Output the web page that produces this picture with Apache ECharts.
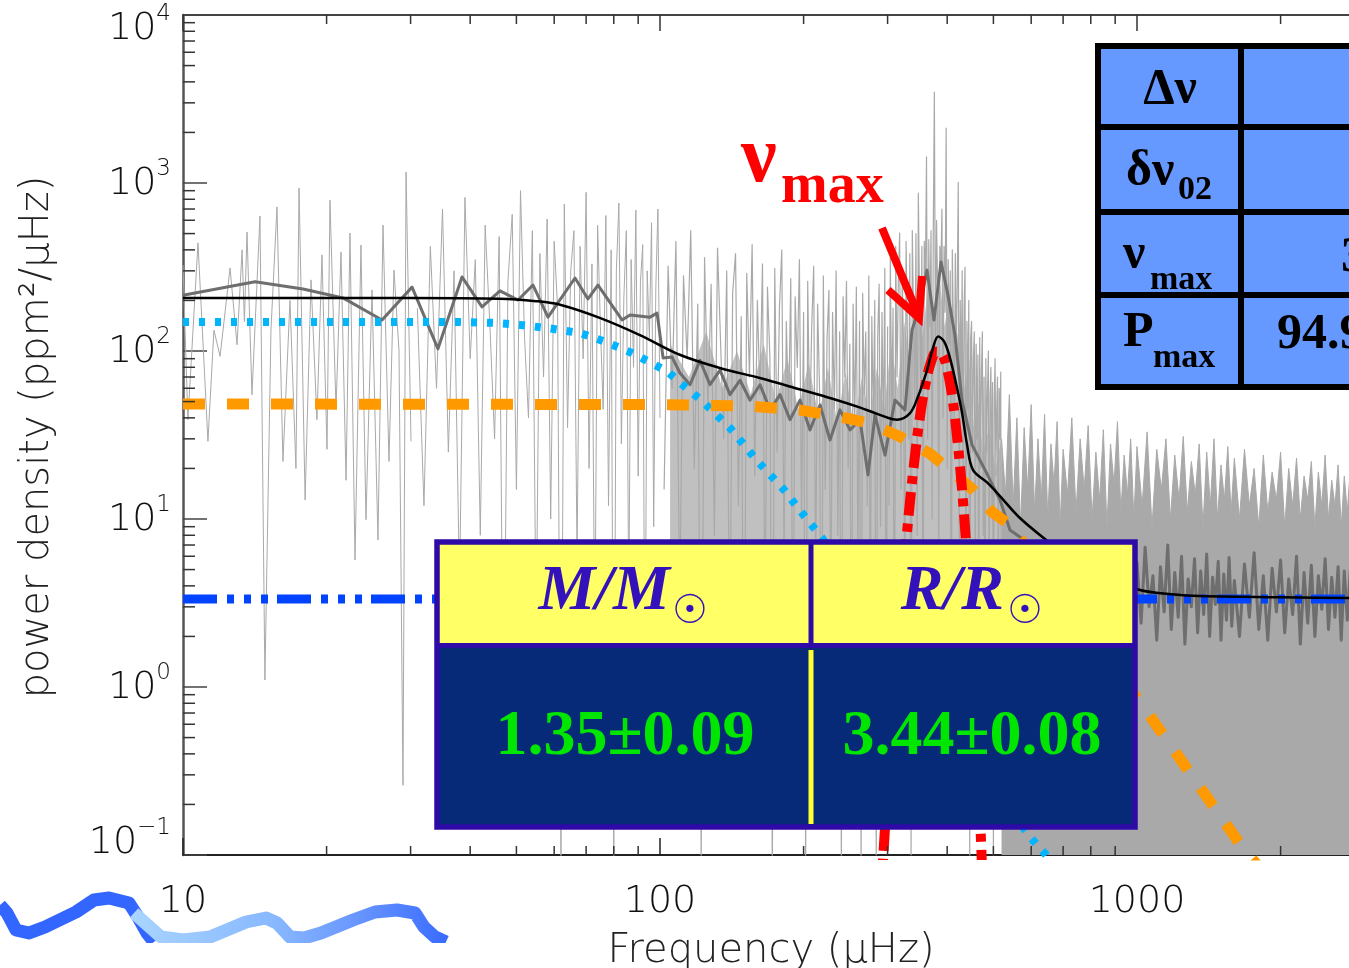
<!DOCTYPE html>
<html><head><meta charset="utf-8">
<script src="https://cdn.jsdelivr.net/npm/echarts@6/dist/echarts.min.js"></script>
<style>html,body{margin:0;padding:0;background:#fff;overflow:hidden}#c{width:1349px;height:968px}</style>
</head><body><div id="c"></div>
<script>
// ---- data (frequency in µHz, power density in ppm^2/µHz) ----
const rawLow = [[10.0,325],[10.24,39],[10.75,440],[11.28,29],[11.61,133],[11.96,93],[12.55,312],[12.98,109],[13.30,400],[13.45,150],[13.62,511],[13.95,55],[14.50,636],[14.85,1.1],[15.29,133],[15.74,720],[16.20,22],[16.76,200],[17.25,20],[17.51,933],[18.03,13],[18.55,265],[19.09,39],[19.56,373],[20.04,26],[20.33,790],[20.93,45],[21.44,388],[21.97,17],[22.39,504],[22.94,5.7],[23.61,427],[24.19,9.9],[24.90,231],[25.63,7.5],[26.26,562],[27.03,22],[27.69,303],[28.37,100],[28.92,0.26],[29.35,1163],[30.06,29]];
const rawMid = [[31,180],[32,12],[33,420],[34,60],[35,700],[36,25],[37,300],[38,4],[39,820],[40,90],[41,350],[42,8],[43,560],[44,140],[45,30],[46,480],[47,0.4],[48,260],[49,650],[50,15],[51,900],[52,120],[53,40],[54,520],[55,2],[56,380],[57,70],[58,610],[59,10],[60,450],[61,180],[62,0.09],[63,750],[64,35],[65,300],[66,520],[67,6],[68,420],[69,90],[70,880],[71,20],[72,330],[73,1.5],[74,560],[75,140],[76,45],[77,640],[78,12],[79,400],[80,0.08],[81,300],[82,760],[83,28],[84,210],[85,520],[86,3],[87,350],[88,80],[89,690],[90,18],[91,260],[92,430],[93,0.5],[94,300],[95,120],[96,580],[97,9],[98,240],[99,700],[100,40]];
const rawHigh = [[102,15],[104,320],[106,60],[108,450],[110,3],[112,280],[114,90],[116,520],[118,20],[120,190],[122,0.09],[124,360],[126,45],[128,250],[130,8],[132,410],[134,110],[136,30],[138,300],[140,1.2],[142,220],[144,380],[146,12],[148,160],[150,0.3],[152,290],[154,70],[156,430],[158,18],[160,200],[162,55],[164,330],[166,2],[168,240],[170,90],[172,0.08],[174,310],[176,25],[178,180],[180,400],[182,6],[184,150],[186,40],[188,270],[190,0.6],[192,210],[194,80],[196,350],[198,10],[200,170],[202,0.09],[204,260],[206,35],[208,140],[210,320],[212,4],[214,190],[216,60],[218,0.2],[220,280],[222,15],[224,120],[226,230],[228,1.5],[230,170],[232,45],[234,300],[236,8],[238,130],[240,0.09],[242,210],[244,70],[246,260],[248,20],[250,110],[252,0.4],[254,190],[256,35],[258,240],[260,5],[262,150],[264,0.08],[266,220],[268,55],[270,130],[272,12],[274,280],[276,2],[278,160],[280,40],[282,200],[284,0.1],[286,120],[288,250],[290,9],[292,170],[294,30],[296,310],[298,0.7],[300,140]];
const rawPeak = [[302,12],[304,360],[306,40],[308,180],[310,0.3],[312,420],[314,70],[316,260],[318,504],[320,15],[322,300],[324,90],[326,2],[328,450],[330,130],[332,30],[334,380],[336,0.1],[338,520],[340,160],[342,45],[344,500],[346,8],[348,870],[350,200],[352,60],[354,420],[356,0.6],[358,450],[360,250],[362,1430],[364,30],[366,460],[368,140],[370,520],[372,10],[374,480],[376,3480],[378,90],[380,600],[382,220],[384,5],[386,420],[388,300],[390,700],[392,40],[394,420],[396,170],[398,2120],[400,20],[402,350],[404,110],[406,300],[408,0.4],[410,400],[412,150],[414,35],[416,380],[418,90],[420,260],[422,1010],[424,6],[426,200],[428,60],[430,300],[432,15],[434,180],[436,316],[438,2],[440,150],[442,45],[444,200],[446,0.09],[448,120],[450,150],[452,25],[454,90],[456,130],[458,4],[460,110],[462,30],[464,95],[466,1],[468,120],[470,20],[472,75],[474,130],[476,8],[478,70],[480,0.2],[482,90],[484,25],[486,60],[488,100],[490,3],[492,55],[494,80],[496,12],[498,65],[500,0.1],[502,50],[504,90],[506,18],[508,45],[510,70],[512,2],[514,60],[516,30],[518,75],[520,0.5]];
const rawBody = [[105,110],[115,70],[125,130],[135,60],[145,100],[155,55],[165,110],[175,50],[185,90],[195,45],[205,85],[215,40],[225,80],[235,38],[245,75],[255,35],[265,70],[275,40],[285,80],[295,45],[305,110],[315,60],[325,150],[335,80],[345,200],[355,120],[365,250],[375,150],[385,280],[395,140],[405,220],[415,100],[425,150],[435,60],[445,90],[455,35],[465,50],[475,25],[490,35],[505,20],[520,30]];
const rawEnvelope = [[520,30],[530,14],[540,55],[550,12],[560,40],[570,9],[580,35],[590,15],[600,48],[610,11],[620,30],[630,13],[640,42],[650,10],[660,28],[670,16],[680,38],[690,9],[700,26],[715,14],[730,40],[745,11],[760,30],[775,15],[790,36],[805,10],[820,25],[835,13],[850,34],[865,9],[880,28],[895,16],[910,38],[925,11],[940,24],[955,14],[970,30],[985,10],[1000,27],[1025,12],[1050,33],[1075,9],[1100,26],[1125,15],[1150,30],[1175,10],[1200,24],[1225,13],[1250,31],[1275,11],[1300,22],[1325,14],[1350,28],[1375,9],[1400,25],[1425,12],[1450,30],[1475,10],[1500,21],[1525,13],[1550,27],[1575,11],[1600,23],[1640,10],[1680,26],[1720,12],[1760,20],[1800,9],[1840,24],[1880,11],[1920,19],[1960,13],[2000,25],[2040,9],[2080,20],[2120,12],[2160,23],[2200,10],[2240,18],[2280,13],[2320,22],[2360,9],[2400,19],[2440,12],[2480,24],[2520,10],[2560,17],[2600,12],[2640,21],[2680,9],[2720,18],[2760,11],[2800,20],[3200,15]];
const smoothSpec = [[10,215],[14.16,258],[17.85,234],[21.65,207],[26.14,153],[30.21,240],[34.24,103],[38.45,276],[42.35,183],[46.19,228],[50.4,201],[54.17,247],[58.24,159],[66.35,272],[70.63,204],[74.13,247],[83.25,153],[86.53,164],[95.3,159],[98.6,168],[101.5,91],[106,92],[110.1,74],[115.6,63],[121.3,88],[127.3,63],[133.6,77],[140.2,55],[147.2,67],[154.4,51],[162.1,63],[170.1,44.6],[178.5,55],[187.3,39],[196.6,51],[206.3,33.9],[216.5,47.7],[227.2,29.5],[238.4,44.6],[250.2,33.9],[262.6,39],[272.9,18.3],[282.3,41.6],[296.3,24],[310.9,51],[326.3,44.6],[337.5,133],[350.8,188],[362.8,303],[375.3,153],[388.2,339],[401.5,215],[415.3,124],[429.6,51],[451,27.6],[480.1,19.6],[516.1,13],[541.7,8.6],[600,7],[700,5.5],[800,4.6],[900,4.3],[1000,5.5],[1020,2.4],[1040,6.8],[1060,3.0],[1080,4.6],[1100,1.9],[1120,5.2],[1140,2.8],[1160,7.0],[1180,2.2],[1200,4.8],[1220,2.6],[1240,6.0],[1260,1.8],[1280,4.4],[1300,3.0],[1320,5.8],[1340,2.1],[1360,4.9],[1380,2.7],[1400,6.2],[1420,2.0],[1440,4.5],[1460,3.1],[1480,5.6],[1500,1.9],[1520,4.7],[1540,2.5],[1560,5.9],[1580,2.3],[1600,4.3],[1640,2.0],[1680,5.4],[1720,2.6],[1760,6.3],[1800,2.2],[1840,4.6],[1880,1.9],[1920,5.1],[1960,2.8],[2000,5.7],[2040,2.1],[2080,4.4],[2120,2.7],[2160,6.0],[2200,1.8],[2240,4.8],[2280,2.4],[2320,5.3],[2360,2.0],[2400,4.6],[2440,2.9],[2480,5.8],[2520,2.2],[2560,4.5],[2600,2.6],[2640,5.2],[2680,1.9],[2720,4.9],[2760,2.5],[2800,5.0]];
const fitTotal = [[10,207],[30,207],[46,205],[55,198],[62,188],[75,157],[91,124],[110,95],[134,79],[162,69],[197,59],[230,52],[263,46],[289,41.7],[314,39],[334,42.5],[347,53],[363,77],[372,100],[383,122],[394,114],[405,92],[419,61],[430,42.5],[440,28],[453,19.6],[485,16.5],[516,13.7],[569,10.1],[657,7.2],[740,5.6],[836,4.64],[1014,3.78],[1200,3.55],[1355,3.48],[2000,3.42],[3200,3.38]];
const granulation1 = [[10,149],[38,149],[45,147],[51,143],[59,136],[68,128],[77,113],[86.5,98.5],[95,86],[104,75],[110,65],[122,51],[140,35],[159,22.6],[182,14.9],[203,10],[218,7.8],[300,2.0],[400,0.62],[500,0.26],[594,0.13],[641,0.102],[700,0.07]];
const granulation2 = [[10,48.4],[100,48],[154,47],[197,44.5],[250,39.5],[276,37],[318,31],[368,24.5],[412,18.9],[453,14.9],[497,11],[542,9.2],[700,3.4],[850,1.6],[1039,0.74],[1260,0.34],[1667,0.11],[1800,0.085]];
const whiteNoise = [[10,3.34],[3200,3.34]];
const oscEnvelope = [[290,0.055],[300,0.25],[310,0.98],[320,3.2],[330,8.7],[340,20],[350,39],[360,63],[370,86],[380,99],[390,96],[400,78],[410,53],[420,30],[430,14.7],[440,6.0],[450,2.0],[460,0.58],[470,0.14],[480,0.028]];
const xMinorTicks = [20,30,40,50,60,70,80,90,200,300,400,500,600,700,800,900,2000,3000];
const yMinorTicks = [0.2,0.3,0.4,0.5,0.6,0.7,0.8,0.9,2,3,4,5,6,7,8,9,20,30,40,50,60,70,80,90,200,300,400,500,600,700,800,900,2000,3000,4000,5000,6000,7000,8000,9000];
const massLabel = 'M/M', radiusLabel = 'R/R';
const massValue = '1.35±0.09', radiusValue = '3.44±0.08';
const BODY_BASE = 4;

const FONT = '"DejaVu Sans"';
const SERIF = '"Liberation Serif", "DejaVu Serif", serif';
const chart = echarts.init(document.getElementById('c'), null, {renderer: 'canvas'});

const X_MIN = 10, X_MAX = 3162.2777, Y_MIN = 0.1, Y_MAX = 10000;

function lineSeries(name, data, color, width, dash, extra) {
  return Object.assign({
    name, type: 'line', data, showSymbol: false, symbol: 'none', clip: true, silent: true,
    animation: false, lineStyle: {color, width, type: dash || 'solid', cap: 'butt', join: 'round'}
  }, extra || {});
}

function tickSeries(values, where, len) {
  return {
    type: 'custom', coordinateSystem: 'cartesian2d', silent: true, animation: false, z: 20,
    data: values.map(v => where === 'left' ? [X_MIN, v] : [v, where === 'top' ? Y_MAX : Y_MIN]),
    encode: {x: 0, y: 1},
    renderItem: function (params, api) {
      const p = api.coord([api.value(0), api.value(1)]);
      let shape;
      if (where === 'left') shape = {x1: p[0], y1: p[1], x2: p[0] + len, y2: p[1]};
      else if (where === 'top') shape = {x1: p[0], y1: p[1], x2: p[0], y2: p[1] + len};
      else shape = {x1: p[0], y1: p[1], x2: p[0], y2: p[1] - len};
      return {type: 'line', shape, style: {stroke: '#333', lineWidth: 1.5}};
    }
  };
}

// dense band of the raw spectrum (drawn between its upper envelope and BODY_BASE)
const bodySeries = {
  type: 'custom', coordinateSystem: 'cartesian2d', silent: true, animation: false, z: 1,
  data: [[rawBody[0][0], rawBody[0][1]]], encode: {x: 0, y: 1},
  renderItem: function (params, api) {
    const top = rawBody.map(d => api.coord([d[0], d[1]]));
    const bottom = rawBody.slice().reverse().map(d => api.coord([d[0], BODY_BASE]));
    return {type: 'polygon', shape: {points: top.concat(bottom)}, style: {fill: '#b0b0b0', opacity: 0.8}};
  }
};

const labTxt = {fontFamily: FONT, fontWeight: 200, color: '#111'};
const option = {
  backgroundColor: '#fff',
  animation: false,
  grid: {left: 183, top: 15, width: 1192.5, height: 840, containLabel: false, outerBoundsMode: 'none'},
  xAxis: [{
    type: 'log', logBase: 10, min: X_MIN, max: X_MAX, position: 'bottom',
    axisLine: {show: true, lineStyle: {color: '#222', width: 2}},
    axisTick: {show: true, inside: true, length: 17, lineStyle: {color: '#222', width: 1.5}},
    axisLabel: Object.assign({show: true, showMaxLabel: false, margin: 28, fontSize: 38,
      formatter: v => String(Math.round(v))}, labTxt),
    splitLine: {show: false}, minorTick: {show: false}
  }, {
    type: 'log', logBase: 10, min: X_MIN, max: X_MAX, position: 'top',
    axisLine: {show: true, lineStyle: {color: '#444', width: 2}},
    axisTick: {show: true, inside: true, length: 16, lineStyle: {color: '#333', width: 1.5}},
    axisLabel: {show: false}, splitLine: {show: false}
  }],
  yAxis: [{
    type: 'log', logBase: 10, min: Y_MIN, max: Y_MAX,
    axisLine: {show: true, lineStyle: {color: '#555', width: 2.5}},
    axisTick: {show: true, inside: true, length: 24, lineStyle: {color: '#444', width: 1.5}},
    axisLabel: {
      show: true, margin: 12,
      formatter: function (v) {
        const e = Math.round(Math.log10(v));
        const s = e < 0 ? '\u2212' + (-e) : String(e);
        const core = '{b|10}{s|' + s + '}';
        if (e === 4) return '{sp| }\n' + core;
        if (e === -1) return core + '\n{sp| }';
        return core;
      },
      rich: {
        b: Object.assign({fontSize: 38, lineHeight: 40, verticalAlign: 'bottom'}, labTxt),
        s: Object.assign({fontSize: 23, lineHeight: 22, verticalAlign: 'bottom', padding: [0, 0, 22, 0]}, labTxt),
        sp: {fontSize: 2, lineHeight: 26}
      }
    },
    splitLine: {show: false}
  }],
  series: [
    bodySeries,
    lineSeries('raw10', rawLow, '#a9a9a9', 1),
    lineSeries('raw30', rawMid, '#a9a9a9', 1),
    lineSeries('raw100', rawHigh, '#a9a9a9', 1.2),
    lineSeries('rawPeak', rawPeak, '#a9a9a9', 1.2),
    lineSeries('rawEnv', rawEnvelope, '#a9a9a9', 1, null, {areaStyle: {color: '#a9a9a9', opacity: 1, origin: 'start'}}),
    lineSeries('smooth', smoothSpec, '#6e6e6e', 3),
    lineSeries('gran1', granulation1, '#00b4ff', 8, [6, 10]),
    lineSeries('gran2', granulation2, '#ff9900', 11, [22, 22]),
    lineSeries('white', whiteNoise, '#0044ff', 9, [34, 10, 7, 10, 7, 10, 7, 9]),
    lineSeries('osc', oscEnvelope, '#ff0000', 10, [24, 8, 8, 8], {smooth: 0.4}),
    lineSeries('fit', fitTotal, '#000000', 2.5, null, {smooth: 0.35}),
    tickSeries(xMinorTicks, 'bottom', 9),
    tickSeries(xMinorTicks, 'top', 9),
    tickSeries(yMinorTicks, 'left', 12)
  ],
  graphic: [
    // decorative ribbon at the bottom-left of the slide
    {type: 'polyline', z: 50, shape: {points: [[0,905],[7,913],[16,930],[29,933],[45,927],[76,912],[94,900],[109,898],[129,903],[138,917],[147,933],[154,942]]},
      style: {stroke: '#3366ff', lineWidth: 13, fill: null, lineJoin: 'round'}},
    {type: 'polyline', z: 51, shape: {points: [[134,913],[161,937],[183,940],[210,937],[246,922],[266,918],[277,923],[290,937],[304,938],[321,933],[353,920],[375,912],[397,910],[415,913],[424,927],[435,937],[446,942]]},
      style: {stroke: new echarts.graphic.LinearGradient(134, 0, 446, 0, [{offset: 0, color: '#a8d4ff'}, {offset: 0.45, color: '#88b8ff'}, {offset: 0.7, color: '#6a98ff'}, {offset: 1, color: '#3a6cff'}], true), lineWidth: 13, fill: null, lineJoin: 'round'}},
    {type: 'rect', z: 52, shape: {x: 0, y: 943, width: 470, height: 30}, style: {fill: '#fff'}},
    // axis titles
    {type: 'text', z: 60, x: 38, y: 437, rotation: Math.PI / 2,
      style: {text: 'power density (ppm\u00b2/\u03bcHz)', font: '200 40px ' + FONT, fill: '#222', align: 'center', verticalAlign: 'middle'}},
    {type: 'text', z: 60, x: 771, y: 932,
      style: {text: 'Frequency (\u03bcHz)', font: '200 40px ' + FONT, fill: '#222', align: 'center', verticalAlign: 'top'}},
    // nu_max annotation
    {type: 'text', z: 70, x: 741, y: 160, style: {text: '\u03bd', font: 'bold 80px ' + SERIF, fill: '#ff0000', align: 'left', verticalAlign: 'middle'}},
    {type: 'text', z: 70, x: 781, y: 188, style: {text: 'max', font: 'bold 56px ' + SERIF, fill: '#ff0000', align: 'left', verticalAlign: 'middle'}},
    {type: 'polyline', z: 70, shape: {points: [[882,228],[917,312]]}, style: {stroke: '#ff0000', lineWidth: 8, fill: null}},
    {type: 'polyline', z: 70, shape: {points: [[888,290],[919,318],[922,276]]}, style: {stroke: '#ff0000', lineWidth: 8, fill: null, lineJoin: 'miter'}},
    // seismic parameter table (top right)
    {type: 'group', z: 80, children: [
      {type: 'rect', z: 80, shape: {x: 1098, y: 46, width: 400, height: 341}, style: {fill: '#6699ff', stroke: '#000', lineWidth: 6}},
      {type: 'line', z: 81, shape: {x1: 1098, y1: 127, x2: 1500, y2: 127}, style: {stroke: '#000', lineWidth: 6}},
      {type: 'line', z: 81, shape: {x1: 1098, y1: 212, x2: 1500, y2: 212}, style: {stroke: '#000', lineWidth: 6}},
      {type: 'line', z: 81, shape: {x1: 1098, y1: 295, x2: 1500, y2: 295}, style: {stroke: '#000', lineWidth: 6}},
      {type: 'line', z: 81, shape: {x1: 1241, y1: 46, x2: 1241, y2: 387}, style: {stroke: '#000', lineWidth: 6}},
      {type: 'text', z: 82, x: 1170, y: 90, style: {text: '\u0394\u03bd', font: 'bold 50px ' + SERIF, fill: '#000', align: 'center', verticalAlign: 'middle'}},
      {type: 'text', z: 82, x: 1126, y: 172, style: {text: '\u03b4\u03bd', font: 'bold 50px ' + SERIF, fill: '#000', align: 'left', verticalAlign: 'middle'}},
      {type: 'text', z: 82, x: 1178, y: 190, style: {text: '02', font: 'bold 34px ' + SERIF, fill: '#000', align: 'left', verticalAlign: 'middle'}},
      {type: 'text', z: 82, x: 1123, y: 255, style: {text: '\u03bd', font: 'bold 50px ' + SERIF, fill: '#000', align: 'left', verticalAlign: 'middle'}},
      {type: 'text', z: 82, x: 1150, y: 280, style: {text: 'max', font: 'bold 34px ' + SERIF, fill: '#000', align: 'left', verticalAlign: 'middle'}},
      {type: 'text', z: 82, x: 1123, y: 333, style: {text: 'P', font: 'bold 50px ' + SERIF, fill: '#000', align: 'left', verticalAlign: 'middle'}},
      {type: 'text', z: 82, x: 1153, y: 358, style: {text: 'max', font: 'bold 34px ' + SERIF, fill: '#000', align: 'left', verticalAlign: 'middle'}},
      {type: 'text', z: 82, x: 1341, y: 258, style: {text: '383', font: 'bold 50px ' + SERIF, fill: '#000', align: 'left', verticalAlign: 'middle'}},
      {type: 'text', z: 82, x: 1277, y: 335, style: {text: '94.9', font: 'bold 50px ' + SERIF, fill: '#000', align: 'left', verticalAlign: 'middle'}}
    ]},
    // mass / radius table
    {type: 'group', z: 90, children: [
      {type: 'rect', z: 90, shape: {x: 437, y: 542, width: 698, height: 104}, style: {fill: '#ffff66'}},
      {type: 'rect', z: 90, shape: {x: 437, y: 646, width: 698, height: 181}, style: {fill: '#062a78'}},
      {type: 'line', z: 91, shape: {x1: 811, y1: 650, x2: 811, y2: 824}, style: {stroke: '#ffff33', lineWidth: 5}},
      {type: 'line', z: 91, shape: {x1: 811, y1: 542, x2: 811, y2: 646}, style: {stroke: '#2e0aa6', lineWidth: 5}},
      {type: 'line', z: 91, shape: {x1: 437, y1: 645.5, x2: 1135, y2: 645.5}, style: {stroke: '#2e0aa6', lineWidth: 5}},
      {type: 'rect', z: 92, shape: {x: 437, y: 542, width: 698, height: 285}, style: {fill: null, stroke: '#2e0aa6', lineWidth: 5.5}},
      {type: 'text', z: 93, x: 670, y: 592, style: {text: massLabel, font: 'italic bold 64px ' + SERIF, fill: '#3311bb', align: 'right', verticalAlign: 'middle'}},
      {type: 'text', z: 93, x: 690, y: 613, style: {text: '\u2609', font: '40px "DejaVu Sans"', fill: '#3311bb', align: 'center', verticalAlign: 'middle'}},
      {type: 'text', z: 93, x: 1004, y: 592, style: {text: radiusLabel, font: 'italic bold 64px ' + SERIF, fill: '#3311bb', align: 'right', verticalAlign: 'middle'}},
      {type: 'text', z: 93, x: 1025, y: 613, style: {text: '\u2609', font: '40px "DejaVu Sans"', fill: '#3311bb', align: 'center', verticalAlign: 'middle'}},
      {type: 'text', z: 93, x: 625, y: 737, style: {text: massValue, font: 'bold 64px ' + SERIF, fill: '#00e600', align: 'center', verticalAlign: 'middle'}},
      {type: 'text', z: 93, x: 972, y: 737, style: {text: radiusValue, font: 'bold 64px ' + SERIF, fill: '#00e600', align: 'center', verticalAlign: 'middle'}}
    ]}
  ]
};
chart.setOption(option);
</script></body></html>
